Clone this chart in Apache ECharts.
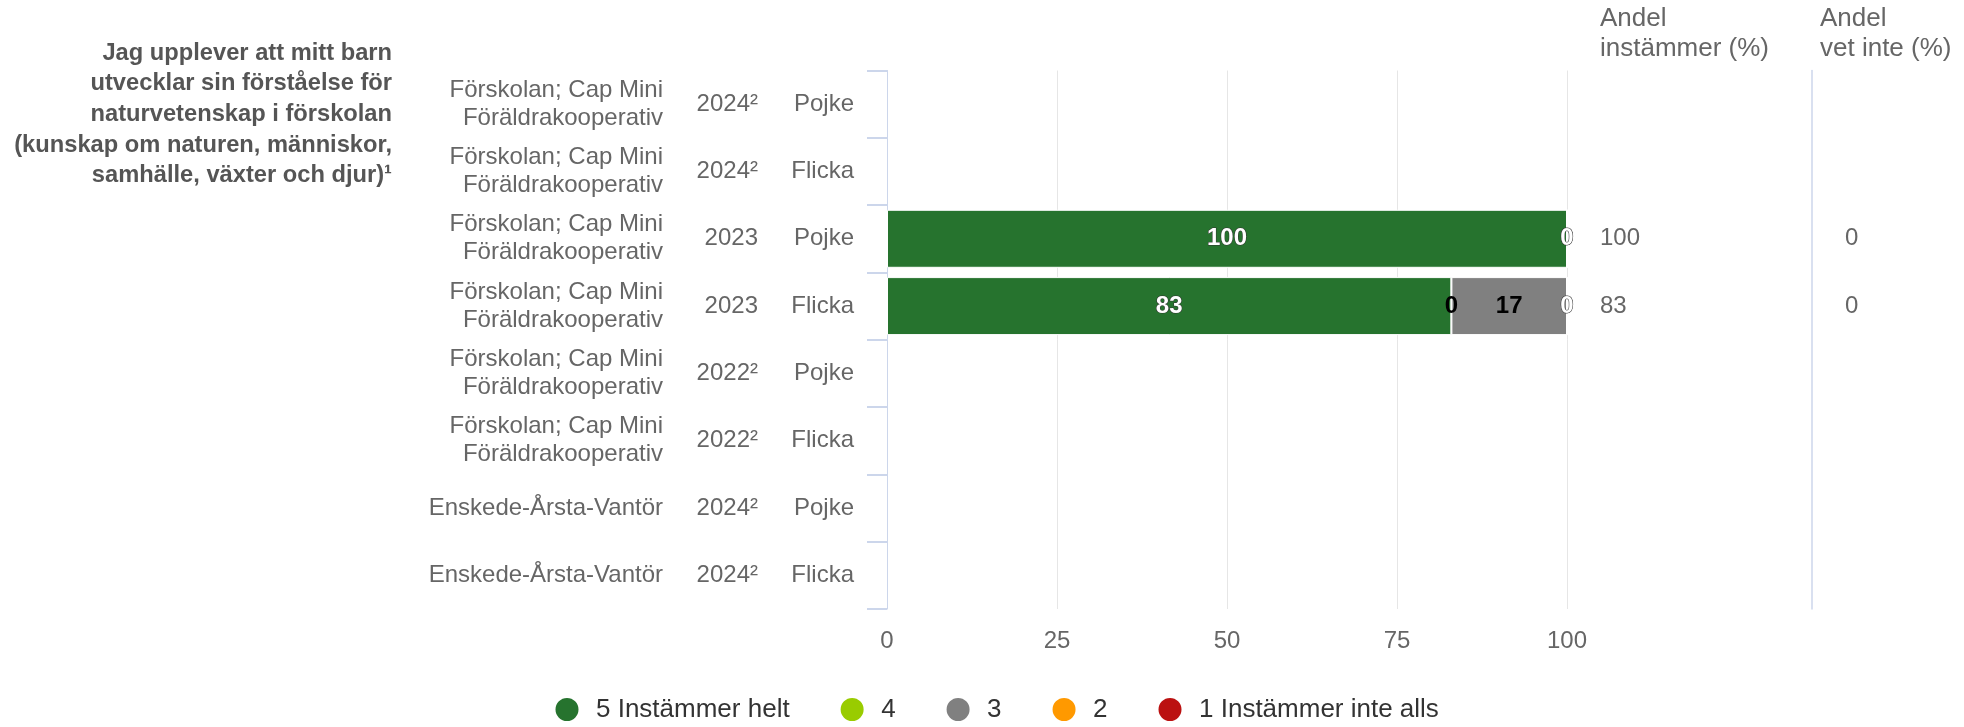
<!DOCTYPE html>
<html>
<head>
<meta charset="utf-8">
<script src="https://cdn.jsdelivr.net/npm/echarts@6/dist/echarts.min.js"></script>
<style>
  html, body { margin: 0; padding: 0; background: #fff; }
  #chart { width: 1964px; height: 727px; }
</style>
</head>
<body>
<div id="chart"></div>
<script>
// data
const units = [
  'Förskolan; Cap Mini\nFöräldrakooperativ',
  'Förskolan; Cap Mini\nFöräldrakooperativ',
  'Förskolan; Cap Mini\nFöräldrakooperativ',
  'Förskolan; Cap Mini\nFöräldrakooperativ',
  'Förskolan; Cap Mini\nFöräldrakooperativ',
  'Förskolan; Cap Mini\nFöräldrakooperativ',
  'Enskede-Årsta-Vantör',
  'Enskede-Årsta-Vantör'
]
const years = ['2024²', '2024²', '2023', '2023', '2022²', '2022²', '2024²', '2024²']
const genders = ['Pojke', 'Flicka', 'Pojke', 'Flicka', 'Pojke', 'Flicka', 'Pojke', 'Flicka']

const seriesNames = ['5 Instämmer helt', '4', '3', '2', '1 Instämmer inte alls']
const s5 = [null, null, 100, 83, null, null, null, null]
const s4 = [null, null, 0, 0, null, null, null, null]
const s3 = [null, null, 0, 17, null, null, null, null]
const s2 = [null, null, 0, 0, null, null, null, null]
const s1 = [null, null, 0, 0, null, null, null, null]

const andelInstammer = ['', '', '100', '83', '', '', '', '']
const andelVetInte = ['', '', '0', '0', '', '', '', '']

const xTicks = [0, 25, 50, 75, 100]

const colors = ['#26732e', '#99cc00', '#808080', '#ff9900', '#bb1111']
const labelColors = ['#fff', '#000', '#000', '#000', '#fff']

const font = '"Liberation Sans", Arial, sans-serif'
const axisBlue = '#ccd6eb'

const chart = echarts.init(document.getElementById('chart'))

const label = (extra) => Object.assign({
  color: '#666', fontSize: 24, fontFamily: font, lineHeight: 28, padding: [4, 0, 0, 0]
}, extra)

const catAxis = (data, extra) => Object.assign({
  type: 'category',
  data: data,
  inverse: true,
  gridIndex: 0,
  axisLine: { show: false },
  axisTick: { show: false },
  splitLine: { show: false },
  axisLabel: label({})
}, extra)

const makeSeries = (vals, i) => ({
  name: seriesNames[i],
  type: 'bar',
  stack: 'total',
  data: vals,
  barWidth: 58,
  itemStyle: { color: colors[i], borderColor: '#fff', borderWidth: 1 },
  label: {
    show: true,
    position: 'inside',
    fontSize: 24,
    fontWeight: 'bold',
    fontFamily: font,
    color: labelColors[i],
    textBorderColor: labelColors[i] === '#fff' ? '#333' : 'transparent',
    textBorderWidth: labelColors[i] === '#fff' ? 1 : 0
  },
  emphasis: { disabled: true }
})

chart.setOption({
  animation: false,
  color: colors,
  textStyle: { fontFamily: font },
  title: [
    {
      text: 'Jag upplever att mitt barn\nutvecklar sin förståelse för\nnaturvetenskap i förskolan\n(kunskap om naturen, människor,\nsamhälle, växter och djur)¹',
      left: 392,
      top: 38,
      padding: 0,
      textAlign: 'right',
      textStyle: { fontSize: 23.7, fontWeight: 'bold', color: '#555', lineHeight: 30.6, fontFamily: font }
    },
    {
      text: 'Andel\ninstämmer (%)',
      left: 1600,
      top: 4,
      padding: 0,
      textStyle: { fontSize: 26, fontWeight: 'normal', color: '#666', lineHeight: 30, fontFamily: font }
    },
    {
      text: 'Andel\nvet inte (%)',
      left: 1820,
      top: 4,
      padding: 0,
      textStyle: { fontSize: 26, fontWeight: 'normal', color: '#666', lineHeight: 30, fontFamily: font }
    }
  ],
  legend: {
    data: seriesNames,
    left: 553.5,
    top: 696,
    padding: 0,
    icon: 'circle',
    itemWidth: 48,
    itemHeight: 25,
    itemGap: 49,
    selectedMode: false,
    textStyle: { fontSize: 26, color: '#333', fontFamily: font }
  },
  grid: { left: 887, right: 397, top: 70.5, bottom: 118, containLabel: false },
  xAxis: {
    type: 'value',
    min: xTicks[0],
    max: xTicks[xTicks.length - 1],
    interval: xTicks[1] - xTicks[0],
    axisLine: { show: false },
    axisTick: { show: false },
    splitLine: { lineStyle: { color: '#e6e6e6', width: 1 } },
    axisLabel: { color: '#666', fontSize: 24, margin: 20, fontFamily: font }
  },
  yAxis: [
    catAxis(genders, {
      position: 'left',
      axisLine: { show: true, lineStyle: { color: axisBlue, width: 1 } },
      axisTick: { show: true, length: 20, lineStyle: { color: axisBlue, width: 2 } },
      axisLabel: label({ margin: 33 })
    }),
    catAxis(years, { position: 'left', offset: 121, axisLabel: label({ margin: 8 }) }),
    catAxis(units, { position: 'left', offset: 216, axisLabel: label({ margin: 8 }) }),
    catAxis(andelInstammer, { position: 'right', offset: 0, axisLabel: label({ margin: 33, padding: [2, 0, 0, 0] }) }),
    catAxis(andelVetInte, {
      position: 'right',
      offset: 245,
      axisLine: { show: true, lineStyle: { color: axisBlue, width: 1.5 } },
      axisLabel: label({ margin: 33, padding: [2, 0, 0, 0] })
    })
  ],
  series: [s5, s4, s3, s2, s1].map(makeSeries)
})
</script>
</body>
</html>
